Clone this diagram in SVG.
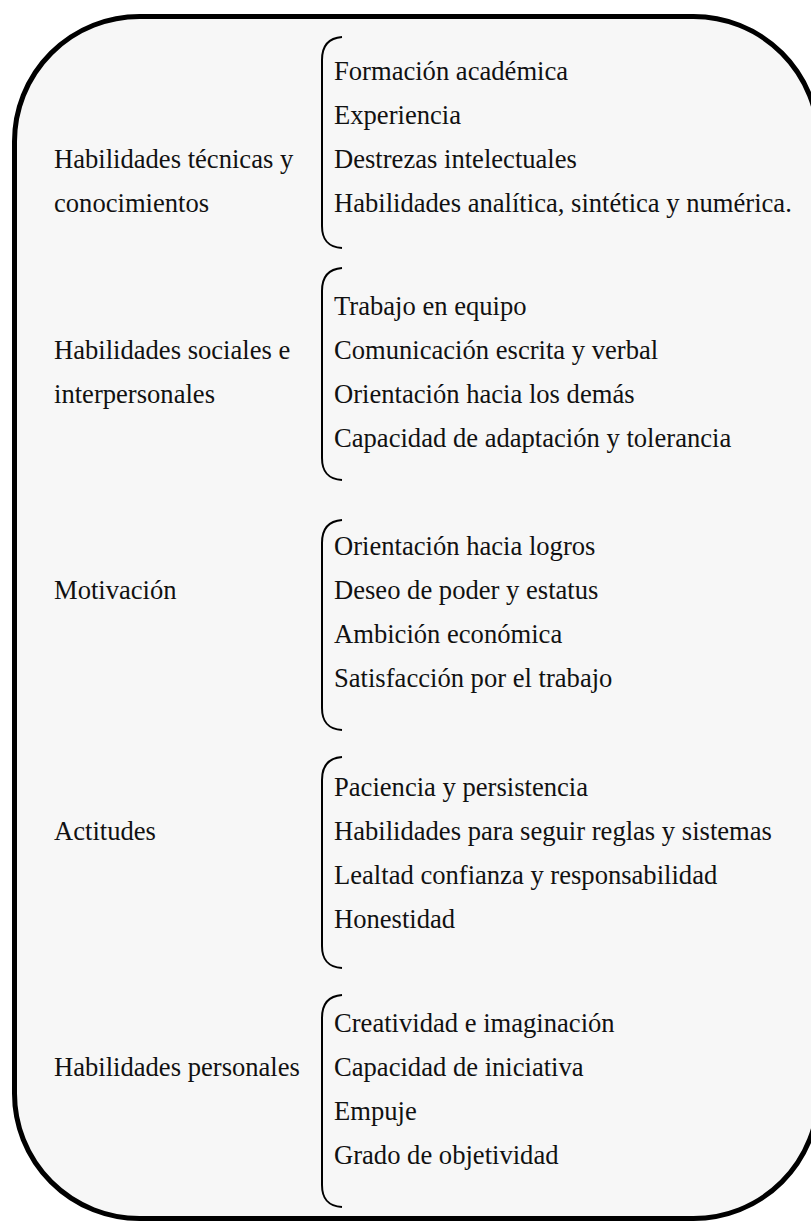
<svg xmlns="http://www.w3.org/2000/svg" width="811" height="1222" viewBox="0 0 811 1222">
  <style>
    .frame { fill: #f7f7f7; stroke: #000; stroke-width: 5; }
    .brace { fill: none; stroke: #000; stroke-width: 2; }
    text { font-family: "Liberation Serif", "Times New Roman", serif; font-size: 26.6px; fill: #111; }
  </style>
  <rect class="frame" x="14.5" y="16.5" width="804" height="1202" rx="125" ry="125"/>

  <g id="connectors">
    <path class="brace" d="M342,37 C328,38 322,46 322,60 V226 C322,240 328,247 342,248"/>
    <path class="brace" d="M342,268 C328,269 322,277 322,291 V458 C322,472 328,479 342,480"/>
    <path class="brace" d="M342,520 C328,521 322,529 322,543 V708 C322,722 328,729 342,730"/>
    <path class="brace" d="M342,757 C328,758 322,766 322,780 V946 C322,960 328,967 342,968"/>
    <path class="brace" d="M342,995 C328,996 322,1004 322,1018 V1185 C322,1199 328,1206 342,1207"/>
  </g>

  <g id="node-tecnicas">
    <text x="54" y="168">Habilidades técnicas y</text>
    <text x="54" y="212">conocimientos</text>
    <text x="334" y="80">Formación académica</text>
    <text x="334" y="124">Experiencia</text>
    <text x="334" y="168">Destrezas intelectuales</text>
    <text x="334" y="212">Habilidades analítica, sintética y numérica.</text>
  </g>

  <g id="node-sociales">
    <text x="54" y="359">Habilidades sociales e</text>
    <text x="54" y="403">interpersonales</text>
    <text x="334" y="315">Trabajo en equipo</text>
    <text x="334" y="359">Comunicación escrita y verbal</text>
    <text x="334" y="403">Orientación hacia los demás</text>
    <text x="334" y="447">Capacidad de adaptación y tolerancia</text>
  </g>

  <g id="node-motivacion">
    <text x="54" y="599">Motivación</text>
    <text x="334" y="555">Orientación hacia logros</text>
    <text x="334" y="599">Deseo de poder y estatus</text>
    <text x="334" y="643">Ambición económica</text>
    <text x="334" y="687">Satisfacción por el trabajo</text>
  </g>

  <g id="node-actitudes">
    <text x="54" y="840">Actitudes</text>
    <text x="334" y="796">Paciencia y persistencia</text>
    <text x="334" y="840">Habilidades para seguir reglas y sistemas</text>
    <text x="334" y="884">Lealtad confianza y responsabilidad</text>
    <text x="334" y="928">Honestidad</text>
  </g>

  <g id="node-personales">
    <text x="54" y="1076">Habilidades personales</text>
    <text x="334" y="1032">Creatividad e imaginación</text>
    <text x="334" y="1076">Capacidad de iniciativa</text>
    <text x="334" y="1120">Empuje</text>
    <text x="334" y="1164">Grado de objetividad</text>
  </g>
</svg>
